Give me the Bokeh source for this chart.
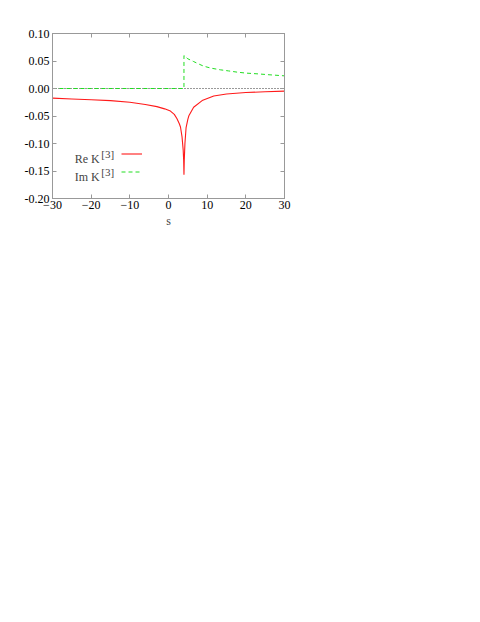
from bokeh.plotting import figure
from bokeh.models import (LinearAxis, FixedTicker, NumeralTickFormatter, Label,
                          Legend, LegendItem, Range1d)
from bokeh.embed import file_html
from bokeh.resources import INLINE
from bokeh.core.properties import value

# ---- data ----
s_re = [-30, -25, -20, -15, -10, -6, -3, -1, 0.5, 1.5, 2.2, 2.8, 3.1, 3.5, 3.8,
        3.92, 4.0, 4.08, 4.25, 4.55, 5.0, 5.3, 6.5, 8.7, 11.7, 15, 20, 25, 30]
re_k = [-0.0175, -0.019, -0.0205, -0.022, -0.025, -0.029, -0.033, -0.037, -0.041,
        -0.047, -0.055, -0.064, -0.070, -0.088, -0.112, -0.130, -0.157, -0.130,
        -0.100, -0.071, -0.056, -0.049, -0.034, -0.022, -0.0135, -0.0100, -0.0072,
        -0.0060, -0.0048]

s_im = [-30, 4, 4, 5, 6.5, 8, 9.1, 11, 13.4, 15.5, 17.8, 20, 22.9, 26, 30]
im_k = [0.0, 0.0, 0.060, 0.054, 0.049, 0.044, 0.0406, 0.037, 0.034, 0.032,
        0.0297, 0.028, 0.0267, 0.025, 0.023]

s_zero = [-30, 30]
zero = [0.0, 0.0]

x_ticks = [-30, -20, -10, 0, 10, 20, 30]
y_ticks = [-0.20, -0.15, -0.10, -0.05, 0.00, 0.05, 0.10]

legend_labels = ["Re K", "Im K"]
legend_sup = "[3]"
x_label = "s"

FONT = "Liberation Serif"
FS = "12px"
FRAME = "#999999"

p = figure(width=308, height=238, x_range=Range1d(-30, 30), y_range=Range1d(-0.2, 0.1),
           output_backend="svg", toolbar_location=None,
           min_border_left=52, min_border_right=24, min_border_top=33, min_border_bottom=40)
p.xgrid.visible = False
p.ygrid.visible = False
p.outline_line_color = FRAME
p.background_fill_color = "white"
p.border_fill_color = "white"

def style_axis(ax, ticks):
    ax.ticker = FixedTicker(ticks=ticks)
    ax.axis_line_color = FRAME
    ax.major_tick_line_color = FRAME
    ax.major_tick_in = 4
    ax.major_tick_out = 0
    ax.minor_tick_line_color = None
    ax.major_label_text_font = FONT
    ax.major_label_text_font_size = FS
    ax.major_label_text_color = "black"

style_axis(p.xaxis[0], x_ticks)
style_axis(p.yaxis[0], y_ticks)
p.xaxis[0].major_label_standoff = 2
p.yaxis[0].major_label_standoff = 3
p.yaxis[0].formatter = NumeralTickFormatter(format="0.00")
p.xaxis[0].axis_label = x_label
p.xaxis[0].axis_label_text_font = FONT
p.xaxis[0].axis_label_text_font_size = FS
p.xaxis[0].axis_label_text_font_style = "normal"
p.xaxis[0].axis_label_standoff = 2

# mirrored ticks on top and right
top_ax = LinearAxis()
style_axis(top_ax, x_ticks)
top_ax.major_label_overrides = {t: "" for t in x_ticks}
top_ax.major_label_standoff = 0
p.add_layout(top_ax, "above")
right_ax = LinearAxis()
style_axis(right_ax, y_ticks)
right_ax.major_label_overrides = {t: "" for t in y_ticks}
right_ax.major_label_standoff = 0
p.add_layout(right_ax, "right")

p.line(s_zero, zero, line_color="black", line_width=1, line_dash="1 2", line_alpha=0.8)
r_im = p.line(s_im, im_k, line_color="#22dd22", line_width=1, line_dash="4 3")
r_re = p.line(s_re, re_k, line_color="#ff1a1a", line_width=1.1)

leg = Legend(items=[LegendItem(label=value(" "), renderers=[r_re]),
                    LegendItem(label=value(" "), renderers=[r_im])],
             location=(69, 19), glyph_width=21, glyph_height=15, label_height=15,
             label_width=1, spacing=3, padding=0, margin=0, label_standoff=0,
             border_line_color=None, background_fill_alpha=0,
             label_text_font_size="1px")
p.add_layout(leg, "center")

for i, lab in enumerate(legend_labels):
    yb = [-0.129, -0.1615][i]
    p.add_layout(Label(x=-17.8, y=yb, text=lab, text_align="right",
                       text_baseline="alphabetic", text_font=FONT, text_font_size=FS))
    p.add_layout(Label(x=-17.4, y=yb, y_offset=5, text=legend_sup, text_align="left",
                       text_baseline="alphabetic", text_font=FONT, text_font_size="11px"))

open("out.html", "w").write(file_html(p, INLINE))
